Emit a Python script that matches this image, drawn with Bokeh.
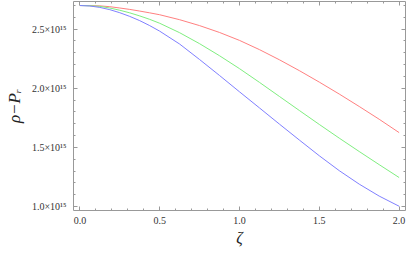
from bokeh.plotting import figure
from bokeh.models import LinearAxis, FixedTicker, CustomJSTickFormatter, Range1d, ColumnDataSource
from bokeh.embed import file_html
from bokeh.resources import INLINE

# data (values in units of 1e15)
zeta = [0.0, 0.0625, 0.125, 0.1875, 0.25, 0.3125, 0.375, 0.4375, 0.5, 0.625, 0.75, 0.875, 1.0,
        1.125, 1.25, 1.375, 1.5, 1.625, 1.75, 1.875, 2.0]
red = [2.700, 2.699, 2.697, 2.690, 2.679, 2.667, 2.653, 2.638, 2.622, 2.580, 2.530, 2.472, 2.405,
       2.327, 2.241, 2.149, 2.052, 1.951, 1.846, 1.738, 1.625]
green = [2.700, 2.698, 2.693, 2.679, 2.660, 2.638, 2.612, 2.583, 2.550, 2.470, 2.377, 2.275, 2.166,
         2.050, 1.931, 1.812, 1.694, 1.578, 1.465, 1.354, 1.245]
blue = [2.700, 2.696, 2.684, 2.665, 2.639, 2.608, 2.572, 2.530, 2.483, 2.374, 2.243, 2.108, 1.970,
        1.834, 1.697, 1.562, 1.429, 1.303, 1.189, 1.088, 1.002]
scale = 1e15

x_major = [0.0, 0.5, 1.0, 1.5, 2.0]
x_minor = [i / 10 for i in range(0, 21)]
y_major = [1.0, 1.5, 2.0, 2.5]
y_minor = [i / 10 for i in range(9, 28)]

src = ColumnDataSource(dict(
    z=zeta,
    r=[v * scale for v in red],
    g=[v * scale for v in green],
    b=[v * scale for v in blue],
))

p = figure(width=407, height=248, output_backend="svg", toolbar_location=None,
           x_range=Range1d(-0.04, 2.04), y_range=Range1d(0.966e15, 2.734e15),
           min_border_left=73, min_border_right=2, min_border_top=1, min_border_bottom=36)
p.outline_line_color = None
p.background_fill_color = "white"
p.border_fill_color = "white"
p.grid.visible = False

p.line("z", "r", source=src, line_color="#ff8080", line_width=1)
p.line("z", "g", source=src, line_color="#80ee80", line_width=1)
p.line("z", "b", source=src, line_color="#8080ff", line_width=1)

xt = FixedTicker(ticks=x_major, minor_ticks=x_minor)
yt = FixedTicker(ticks=[v * scale for v in y_major], minor_ticks=[v * scale for v in y_minor])

yfmt = CustomJSTickFormatter(code="return (tick/1e15).toFixed(1) + '\u00d710\u00b9\u2075';")
xfmt = CustomJSTickFormatter(code="return tick.toFixed(1);")
blank = CustomJSTickFormatter(code="return '';")

def style(ax, labels=True):
    ax.axis_line_color = "#999999"
    ax.major_tick_line_color = "#999999"
    ax.minor_tick_line_color = "#999999"
    ax.major_tick_in = 4
    ax.major_tick_out = 0
    ax.minor_tick_in = 2
    ax.minor_tick_out = 0
    ax.major_label_text_font = "Liberation Serif"
    ax.major_label_text_font_size = "10px"
    ax.major_label_text_color = "#333333"
    ax.axis_label_text_font = "Liberation Serif"
    ax.axis_label_text_font_style = "italic"
    ax.axis_label_text_font_size = "17px"
    ax.axis_label_text_color = "#222222"
    if not labels:
        ax.formatter = blank
        ax.major_label_standoff = 0

p.xaxis.ticker = xt
p.yaxis.ticker = yt
p.yaxis.formatter = yfmt
p.xaxis.formatter = xfmt
style(p.xaxis[0])
style(p.yaxis[0])
p.xaxis.axis_label = "\u03b6"
p.xaxis.axis_label_text_font_size = "16px"
p.yaxis.axis_label = "\u03c1\u2212P\u1d63"
p.xaxis.major_label_standoff = 6
p.yaxis.major_label_standoff = 7
p.xaxis.axis_label_standoff = 2
p.yaxis.axis_label_standoff = 5

top = LinearAxis(ticker=xt)
right = LinearAxis(ticker=yt)
style(top, labels=False)
style(right, labels=False)
p.add_layout(top, "above")
p.add_layout(right, "right")

open("out.html", "w").write(file_html(p, INLINE))
